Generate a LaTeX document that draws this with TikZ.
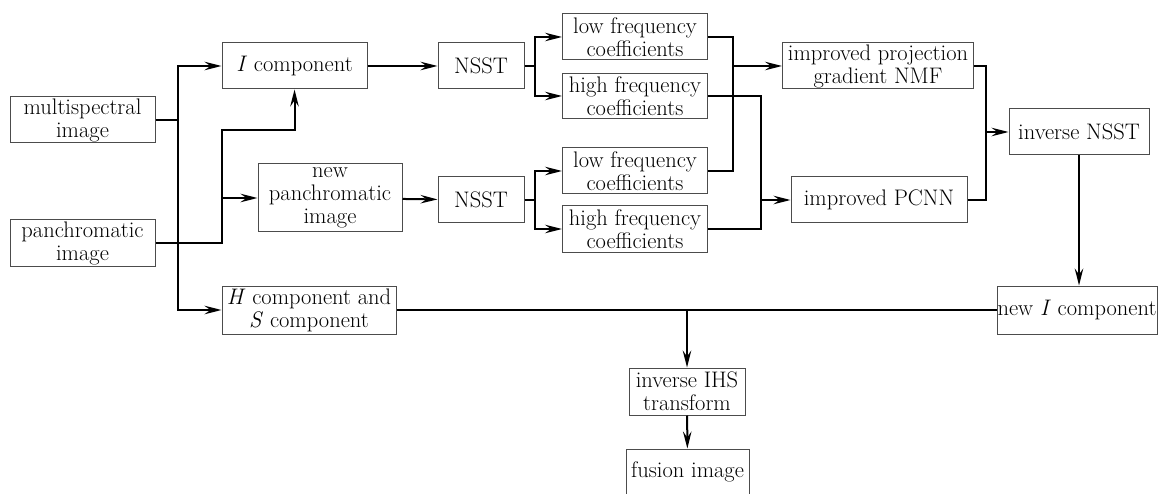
\documentclass[tikz,border=0pt]{standalone}
\usepackage{fontspec}
\usetikzlibrary{arrows.meta}

\begin{document}
\begin{tikzpicture}[x=1pt,y=-1pt,
  box/.style={draw=black!70,line width=1pt,inner sep=0pt,align=center,
    font=\fontsize{22.5}{23}\selectfont},
  arr/.style={line width=2pt,-{Stealth[length=17pt,width=8.5pt,inset=6pt]}},
  ln/.style={line width=2pt}]

\useasboundingbox (0,0) rectangle (1158,494);

\node (Multispectral) at (82.5,120) [box,minimum width=145pt,minimum height=46pt]{multispectral\\image};
\node (Panchromatic) at (82.5,243) [box,minimum width=145pt,minimum height=46pt]{panchromatic\\image};
\node (IComp) at (294.5,66) [box,minimum width=145pt,minimum height=46pt]{\textit{I} component};
\node (NewPan) at (330,198) [box,minimum width=144pt,minimum height=68pt]{new\\panchromatic\\image};
\node (HSComp) at (309,310) [box,minimum width=174pt,minimum height=48pt]{\textit{H} component and\\\textit{S} component};

\node (NsstA) at (481,66) [box,minimum width=86pt,minimum height=46pt]{NSST};
\node (NsstB) at (481,200) [box,minimum width=86pt,minimum height=46pt]{NSST};

\node (LowA) at (635,37) [box,minimum width=145pt,minimum height=46pt]{low frequency\\coefficients};
\node (HighA) at (635,96) [box,minimum width=145pt,minimum height=45pt]{high frequency\\coefficients};
\node (LowB) at (635,171) [box,minimum width=145pt,minimum height=46pt]{low frequency\\coefficients};
\node (HighB) at (635,229) [box,minimum width=145pt,minimum height=46pt]{high frequency\\coefficients};

\node (Nmf) at (878,66) [box,minimum width=191pt,minimum height=46pt]{improved projection\\gradient NMF};
\node (Pcnn) at (879,200) [box,minimum width=176pt,minimum height=46pt]{improved PCNN};
\node (InvNsst) at (1079,132) [box,minimum width=140pt,minimum height=46pt]{inverse NSST};
\node (NewIComp) at (1077,310) [box,minimum width=160pt,minimum height=48pt]{new \textit{I} component};

\node (InvIhs) at (687,391.5) [box,minimum width=116pt,minimum height=47pt]{inverse IHS\\transform};
\node (Fusion) at (687.5,472) [box,minimum width=123pt,minimum height=46pt]{fusion image};

\coordinate (SplitMs) at (178,120);
\coordinate (BendPan) at (222,130);
\coordinate (SplitPan) at (222,198);
\coordinate (ForkA) at (535,66);
\coordinate (ForkB) at (535,200);
\coordinate (JoinLow) at (733,66);
\coordinate (JoinHigh) at (761,200);
\coordinate (JoinFuse) at (986,132);
\coordinate (DropIhs) at (687,310);

\draw [ln] (Multispectral.east) -- (SplitMs);
\draw [arr] (SplitMs) |- (IComp.west);
\draw [arr] (SplitMs) |- (HSComp.west);

\draw [arr] (Panchromatic.east) -| (BendPan) -| (IComp.south);
\draw [arr] (SplitPan) -- (NewPan.west);

\draw [arr] (IComp) -- (NsstA);
\draw [arr] (NewPan) -- (NsstB);

\draw [ln] (NsstA.east) -- (ForkA);
\draw [arr] (ForkA) |- (LowA.west);
\draw [arr] (ForkA) |- (HighA.west);
\draw [ln] (NsstB.east) -- (ForkB);
\draw [arr] (ForkB) |- (LowB.west);
\draw [arr] (ForkB) |- (HighB.west);

\draw [ln] (LowA.east) -| (JoinLow);
\draw [ln] (LowB.east) -| (JoinLow);
\draw [arr] (JoinLow) -- (Nmf.west);
\draw [ln] (HighA.east) -| (JoinHigh);
\draw [ln] (HighB.east) -| (JoinHigh);
\draw [arr] (JoinHigh) -- (Pcnn.west);

\draw [ln] (Nmf.east) -| (JoinFuse);
\draw [ln] (Pcnn.east) -| (JoinFuse);
\draw [arr] (JoinFuse) -- (InvNsst.west);

\draw [arr] (InvNsst.south) -- (InvNsst.south |- NewIComp.north);
\draw [ln] (HSComp.east) -- (NewIComp.west);
\draw [arr] (DropIhs) -- (InvIhs);
\draw [arr] (InvIhs) -- (Fusion);

\end{tikzpicture}
\end{document}
